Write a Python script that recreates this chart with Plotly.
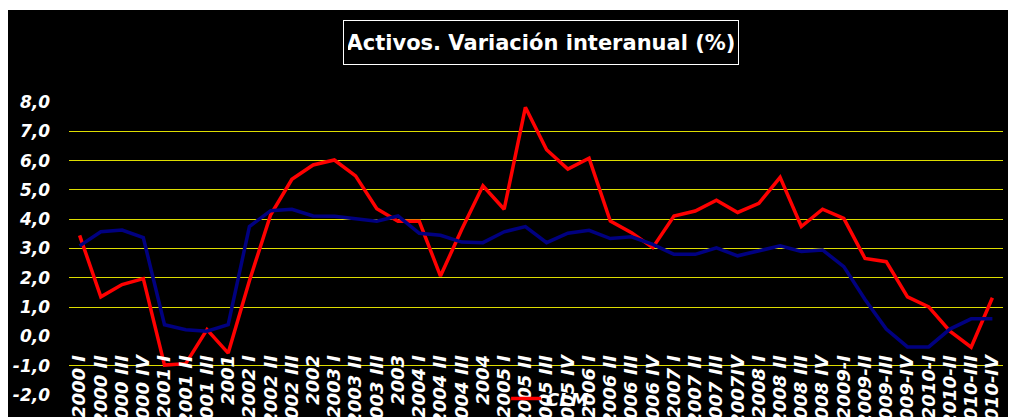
import plotly.graph_objects as go

categories = [
    "2000 I", "2000 II", "2000 III", "2000 IV",
    "2001 I", "2001 II", "2001 III", "2001",
    "2002 I", "2002 II", "2002 III", "2002",
    "2003 I", "2003 II", "2003 III", "2003",
    "2004 I", "2004 II", "2004 III", "2004",
    "2005 I", "2005 II", "2005 III", "2005 IV",
    "2006 I", "2006 II", "2006 III", "2006 IV",
    "2007 I", "2007 II", "2007 III", "2007IV",
    "2008 I", "2008 II", "2008 III", "2008 IV",
    "2009-I", "2009-II", "2009-III", "2009-IV",
    "2010-I", "2010-II", "2010-III", "2010-IV",
]

clm = [
    3.45, 1.35, 1.77, 1.97,
    -0.98, -0.93, 0.23, -0.57,
    1.90, 4.15, 5.36, 5.85,
    6.02, 5.48, 4.36, 3.93,
    3.93, 2.06, 3.65, 5.14,
    4.34, 7.82, 6.37, 5.71,
    6.08, 3.94, 3.54, 3.03,
    4.11, 4.28, 4.65, 4.23,
    4.54, 5.43, 3.75, 4.34,
    4.03, 2.66, 2.55, 1.35,
    1.01, 0.18, -0.37, 1.32,
]

espana = [
    3.09, 3.57, 3.63, 3.37,
    0.40, 0.23, 0.18, 0.40,
    3.75, 4.29, 4.34, 4.11,
    4.10, 4.00, 3.93, 4.11,
    3.52, 3.45, 3.22, 3.20,
    3.57, 3.75, 3.20, 3.52,
    3.62, 3.34, 3.40, 3.14,
    2.80, 2.80, 3.02, 2.75,
    2.92, 3.09, 2.90, 2.95,
    2.38, 1.26, 0.25, -0.36,
    -0.36, 0.25, 0.60, 0.60,
]

y_tick_values = [-2, -1, 0, 1, 2, 3, 4, 5, 6, 7, 8]
y_tick_labels = ["-2,0", "-1,0", "0,0", "1,0", "2,0", "3,0", "4,0", "5,0", "6,0", "7,0", "8,0"]

title_text = "Activos. Variación interanual (%)"

FONT = "DejaVu Sans, Verdana, sans-serif"

fig = go.Figure()
fig.add_trace(go.Scatter(
    x=categories, y=clm, name="CLM", mode="lines",
    line=dict(color="#ff0000", width=3.5),
))
fig.add_trace(go.Scatter(
    x=categories, y=espana, name="España", mode="lines",
    line=dict(color="#000080", width=3.5), showlegend=False,
))

# black chart panel
fig.add_shape(type="rect", xref="paper", yref="paper",
              x0=-0.1, x1=1.05, y0=-0.2, y1=1.3139,
              fillcolor="black", line=dict(width=0), layer="below")

fig.add_annotation(
    x=0.5054, y=1.2044, xref="paper", yref="paper",
    text="<b>" + title_text + "</b>", showarrow=False,
    xanchor="center", yanchor="middle",
    width=386, height=35,
    font=dict(family=FONT, size=21, color="white"),
    bordercolor="white", borderwidth=1, borderpad=4,
)

fig.update_layout(
    width=1008, height=409,
    margin=dict(l=61, r=13, t=94, b=22, autoexpand=False),
    paper_bgcolor="white", plot_bgcolor="rgba(0,0,0,0)",
    showlegend=True,
    legend=dict(x=0.468, y=0.05, xanchor="left", yanchor="top",
                bgcolor="rgba(0,0,0,0)",
                font=dict(family=FONT, size=18, color="white", style="italic", weight="bold")),
    xaxis=dict(
        type="category", range=[-0.5, 43.5],
        tickmode="linear", dtick=1, tick0=0,
        anchor="free", position=0.2,
        showgrid=False, showline=False, zeroline=False, ticks="",
        tickangle=-90, automargin=False, ticklabelstandoff=14,
        tickfont=dict(family=FONT, size=18, color="white", style="italic", weight="bold"),
    ),
    yaxis=dict(
        range=[-2, 8], tickvals=y_tick_values, ticktext=y_tick_labels,
        showgrid=True, gridcolor="#dddd00", gridwidth=1,
        zeroline=True, zerolinecolor="black", zerolinewidth=2,
        showline=False, ticks="", automargin=False, ticklabelstandoff=18,
        tickfont=dict(family=FONT, size=17, color="white", style="italic", weight="bold"),
    ),
)

fig.write_html("out.html")
